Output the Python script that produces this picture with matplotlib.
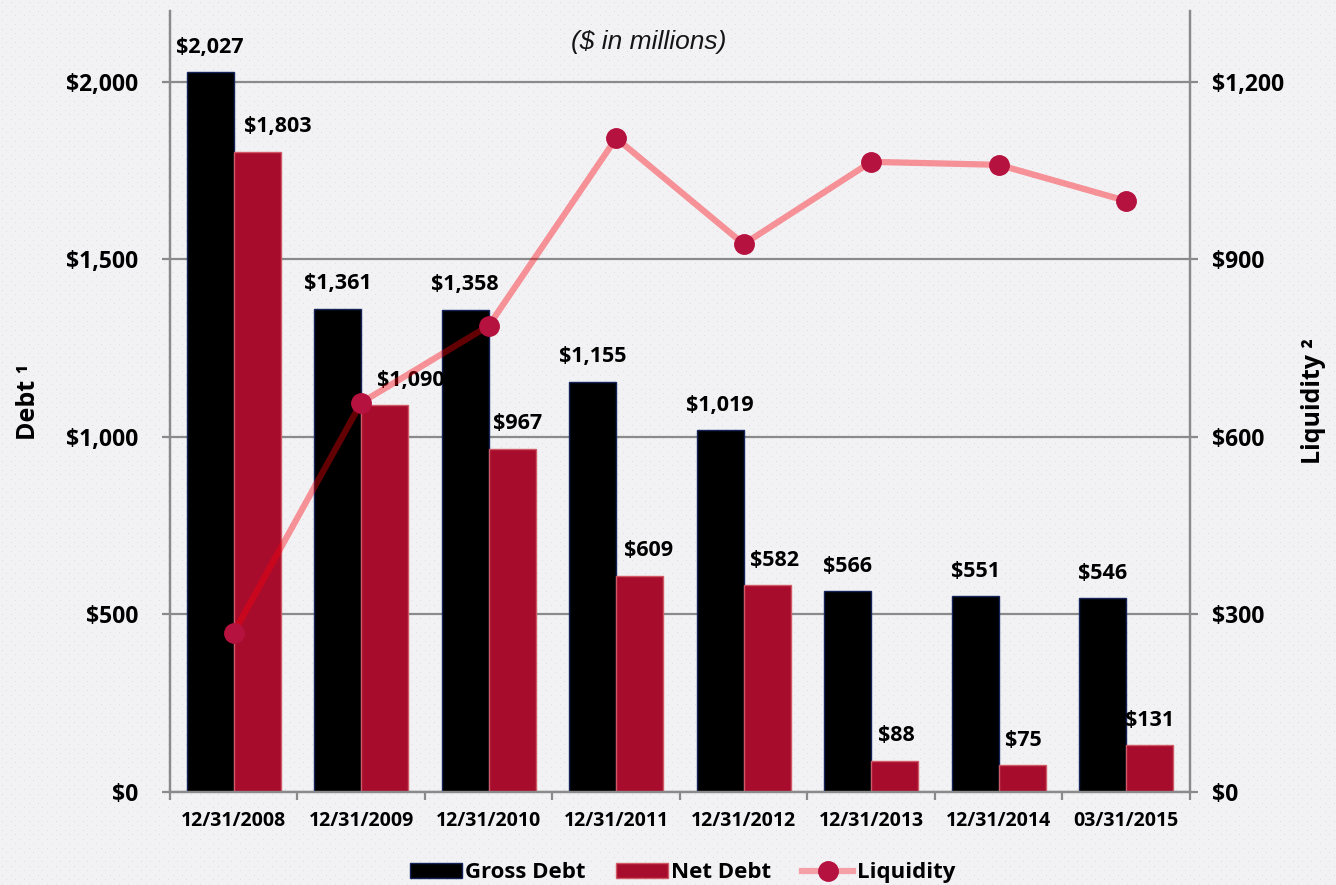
import matplotlib.pyplot as plt
from matplotlib.patches import Patch
from matplotlib.lines import Line2D
import numpy as np

plt.rcParams['font.family'] = ['Open Sans', 'DejaVu Sans']

dates = ["12/31/2008", "12/31/2009", "12/31/2010", "12/31/2011",
         "12/31/2012", "12/31/2013", "12/31/2014", "03/31/2015"]
gross_debt = [2027, 1361, 1358, 1155, 1019, 566, 551, 546]
net_debt = [1803, 1090, 967, 609, 582, 88, 75, 131]
liquidity = [269, 658, 788, 1105, 926, 1065, 1060, 999]

# label nudges (points) for net debt labels that were moved off the line
net_dx = [15, 19, 4, 6, 5, 1, 1, 0]

bg = '#f2f2f5'
fig = plt.figure(figsize=(13.36, 8.85), dpi=100, facecolor=bg)

# dotted backdrop
tex = np.ones((885, 1336, 3)) * np.array([242, 242, 245]) / 255
tex[2::9, 2::9] = np.array([222, 222, 228]) / 255
tex[6::9, 6::9] = np.array([222, 222, 228]) / 255
fig.figimage(tex, 0, 0, zorder=-10)

ax = fig.add_axes([0.1272, 0.1051, 0.7635, 0.8825])
ax.set_facecolor('none')

x = np.arange(len(dates))
w = 0.37
ax.bar(x - w/2, gross_debt, w, color='black', edgecolor='#14245a', lw=1, zorder=2)
ax.bar(x + w/2, net_debt, w, color='#a80c2c', edgecolor='#cf5a66', lw=1, zorder=2)

ax.set_ylim(0, 2200)
ax.set_xlim(-0.5, len(dates) - 0.5)
ax.set_yticks([0, 500, 1000, 1500, 2000])
ax.set_yticklabels(['$0', '$500', '$1,000', '$1,500', '$2,000'],
                   fontsize=16.5, fontweight='bold')
ax.yaxis.grid(True, color='#8a8a8a', lw=1.6, zorder=1)
ax.set_axisbelow(True)
ax.set_xticks(x)
ax.set_xticklabels(dates, fontsize=14, fontweight='bold')
ax.tick_params(axis='x', which='major', length=0, pad=14)
ax.set_xticks(np.arange(-0.5, len(dates)), minor=True)
ax.tick_params(axis='x', which='minor', length=6, width=1.6, color='#8a8a8a', direction='out')
ax.tick_params(axis='y', length=6, width=1.6, color='#8a8a8a', pad=17)
for s in ['left', 'bottom', 'right']:
    ax.spines[s].set_color('#8a8a8a')
    ax.spines[s].set_linewidth(1.6)
ax.spines['top'].set_visible(False)
ax.set_ylabel('Debt \u00b9', fontsize=18, fontweight='bold', labelpad=18)

for i, v in enumerate(gross_debt):
    ax.annotate(f'${v:,}', (x[i] - w/2, v), xytext=(0, 18), textcoords='offset points',
                ha='center', va='center', fontsize=15.5, fontweight='bold')
for i, v in enumerate(net_debt):
    ax.annotate(f'${v:,}', (x[i] + w/2, v), xytext=(net_dx[i], 18), textcoords='offset points',
                ha='center', va='center', fontsize=15.5, fontweight='bold')

ax.text(0.469, 0.960, '($ in millions)', transform=ax.transAxes, ha='center', va='center',
        fontsize=19, style='italic', color='#151515', family='Liberation Sans')

ax2 = ax.twinx()
ax2.set_ylim(0, 1320)
ax2.set_yticks([0, 300, 600, 900, 1200])
ax2.set_yticklabels(['$0', '$300', '$600', '$900', '$1,200'], fontsize=16.5, fontweight='bold')
ax2.tick_params(axis='y', length=6, width=1.6, color='#8a8a8a', pad=10)
for s in ['left', 'bottom', 'right']:
    ax2.spines[s].set_color('#8a8a8a')
    ax2.spines[s].set_linewidth(1.6)
ax2.spines['top'].set_visible(False)
ax2.plot(x, liquidity, color='#fa000a', alpha=0.4, lw=4.5, zorder=3)
ax2.plot(x, liquidity, 'o', color='#b5123f', ms=14, zorder=4)
ax2.set_ylabel('Liquidity \u00b2', fontsize=18, fontweight='bold', labelpad=12)
ax2.yaxis.set_label_position('right')

handles = [Patch(facecolor='black', edgecolor='#14245a'),
           Patch(facecolor='#a80c2c', edgecolor='#cf5a66'),
           Line2D([], [], color='#f4a0a6', lw=4.5, marker='o', ms=14,
                  markerfacecolor='#b5123f', markeredgecolor='#b5123f')]
fig.legend(handles, ['Gross Debt', 'Net Debt', 'Liquidity'], loc='center', ncol=3,
           bbox_to_anchor=(0.511, 0.0136), frameon=False, handlelength=2.3,
           handletextpad=0.15, columnspacing=1.4,
           prop={'size': 16, 'weight': 'bold'})

fig.savefig('out.png', dpi=100, facecolor=bg)
